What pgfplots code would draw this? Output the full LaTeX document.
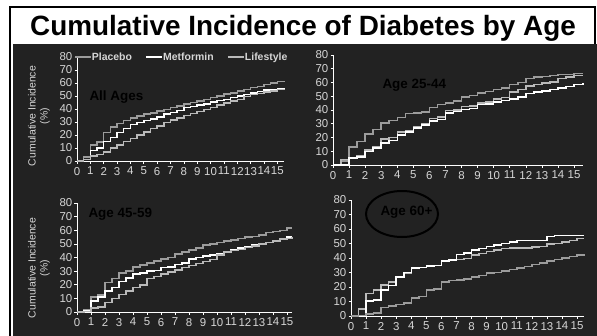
\documentclass[border=0pt]{standalone}
\usepackage{pgfplots}
\pgfplotsset{compat=1.18}
\usepackage{fontspec}
\setmainfont{Liberation Sans}
\definecolor{bg}{HTML}{222222}
\definecolor{tickc}{HTML}{D6D6D6}
\definecolor{plc}{HTML}{9C9C9C}
\definecolor{met}{HTML}{FFFFFF}
\definecolor{lif}{HTML}{BABABA}
\pgfplotsset{
 panel/.style={
   scale only axis, anchor=south west,
   xmin=0, ymin=0, ymax=80,
   axis x line=bottom, axis y line=left,
   axis line style={white, line width=1bp, -},
   xtick={0,...,15}, ytick={0,10,...,80},
   tick style={white, line width=0.6bp},
   tick align=outside, major tick length=2.5bp,
   ticklabel style={font=\fontsize{11.5}{12}\selectfont, text=tickc},
   xticklabel style={inner xsep=0pt},
   yticklabel style={inner xsep=2pt},
   /pgf/number format/assume math mode=true,
   every axis plot/.append style={const plot, line width=1.5bp, mark=none},
   clip=false,
 },
 plc/.style={draw=plc},
 met/.style={draw=met},
 lif/.style={draw=lif},
}
\begin{document}
\begin{tikzpicture}
\useasboundingbox (0,0) rectangle (597bp,-336bp);
\fill[white] (0,0) rectangle (597bp,-336bp);
\draw[black, line width=2bp] (10bp,-345bp) -- (10bp,-7bp) -- (595bp,-7bp) -- (595bp,-345bp);
\fill[bg] (12.5bp,-44bp) rectangle (597bp,-336bp);
\node[anchor=base, font=\fontsize{28}{30}\selectfont\bfseries] at (303bp,-35bp) {Cumulative Incidence of Diabetes by Age};

% ---------- All Ages ----------
\begin{axis}[panel, at={(77bp,-161bp)}, width=207bp, height=104bp, xmax=15.5,
  legend columns=3,
  legend style={at={(0,1)}, anchor=west, xshift=-3bp, draw=none, fill=none,
    font=\fontsize{10.5}{11}\selectfont\bfseries, text=tickc,
    inner sep=0pt, /tikz/every even column/.append style={column sep=13bp},
    nodes={inner xsep=0.5pt}},
  legend image code/.code={\draw[#1, line width=1.2bp] (0bp,0bp) -- (16bp,0bp);}]
\addplot[plc] coordinates {(0,0)(0.5,3)(1,12.5)(1.5,14.5)(2,22)(2.5,26)(3,29)(3.5,31)(4,33)(4.5,34.5)(5,36)(5.5,37)(6,38.5)(6.5,39.5)(7,41)(7.5,42.5)(8,44)(8.5,45)(9,46)(9.5,47.5)(10,49)(10.5,50)(11,51.5)(11.5,52.5)(12,54)(12.5,55)(13,56.5)(13.5,57.5)(14,59)(14.5,60)(15,61)(15.5,61.5)};
\addlegendentry{Placebo}
\addplot[met] coordinates {(0,0)(0.5,1)(1,8)(1.5,10)(2,15)(2.5,18)(3,22)(3.5,25)(4,28)(4.5,29.5)(5,31)(5.5,32.5)(6,34)(6.5,36)(7,37.5)(7.5,39)(8,41)(8.5,42)(9,43)(9.5,44)(10,45.5)(10.5,46.5)(11,47.5)(11.5,49)(12,50)(12.5,51)(13,52.5)(13.5,53.5)(14,54.5)(14.5,55)(15,55.5)(15.5,56)};
\addlegendentry{Metformin}
\addplot[lif] coordinates {(0,0)(0.5,1)(1,4)(1.5,5)(2,7)(2.5,10)(3,12.5)(3.5,15)(4,17.5)(4.5,20)(5,22.5)(5.5,25)(6,27)(6.5,29.5)(7,31.5)(7.5,33)(8,35)(8.5,36.5)(9,38)(9.5,39.5)(10,41)(10.5,43)(11,44.5)(11.5,46)(12,47.5)(12.5,49.5)(13,51)(13.5,52)(14,53)(14.5,54)(15,55)(15.5,55.5)};
\addlegendentry{Lifestyle}
\end{axis}

% ---------- Age 25-44 ----------
\begin{axis}[panel, at={(333bp,-165bp)}, width=250bp, height=110bp, xmax=15.56]
\addplot[plc] coordinates {(0,0)(0.5,3)(1,13)(1.5,17)(2,22.5)(2.5,26)(3,30.5)(3.5,32.5)(4,34.5)(4.5,37.5)(5,38)(5.5,38.5)(6,42)(6.5,44)(7,45)(7.5,46.5)(8,49.5)(8.5,50.5)(9,52.5)(9.5,53.5)(10,55)(10.5,56)(11,58.5)(11.5,60)(12,63)(12.5,64)(13,64.5)(13.5,65)(14,66)(14.5,66)(15,66.5)(15.56,66.5)};
\addplot[lif] coordinates {(0,0)(0.5,4)(1,5.5)(1.5,7)(2,11)(2.5,13)(3,19)(3.5,20)(4,24)(4.5,25)(5,27.5)(5.5,30)(6,34)(6.5,35)(7,39.5)(7.5,40)(8,42.5)(8.5,43)(9,45)(9.5,46)(10,48)(10.5,49)(11,53)(11.5,55)(12,57.5)(12.5,58.5)(13,59.5)(13.5,60.5)(14,63)(14.5,64)(15,65)(15.56,65)};
\addplot[met] coordinates {(0,0)(0.5,0.5)(1,5)(1.5,6)(2,10)(2.5,12.5)(3,16)(3.5,18)(4,22)(4.5,24)(5,27)(5.5,29)(6,32)(6.5,33)(7,38)(7.5,39)(8,40.5)(8.5,41)(9,44)(9.5,44.5)(10,46)(10.5,47)(11,48)(11.5,49.5)(12,52)(12.5,53)(13,54)(13.5,55)(14,56)(14.5,57)(15,58.5)(15.56,59.5)};
\end{axis}

% ---------- Age 45-59 ----------
\begin{axis}[panel, at={(77bp,-312bp)}, width=215bp, height=109bp, xmax=15.36]
\addplot[plc] coordinates {(0,0)(0.5,1.5)(1,11)(1.5,12.5)(2,21.5)(2.5,24.5)(3,28.5)(3.5,30)(4,33)(4.5,34.5)(5,36)(5.5,37.5)(6,39)(6.5,40)(7,42.5)(7.5,44)(8,45.5)(8.5,47)(9,49)(9.5,50)(10,51)(10.5,52)(11,53)(11.5,54)(12,55)(12.5,55.5)(13,56.5)(13.5,58.5)(14,59)(14.5,60)(15,61.5)(15.36,61.5)};
\addplot[met] coordinates {(0,0)(0.5,1)(1,8)(1.5,11)(2,15.5)(2.5,18)(3,22.5)(3.5,25)(4,28)(4.5,28.5)(5,30)(5.5,30.5)(6,32.5)(6.5,33)(7,35)(7.5,36)(8,39)(8.5,40)(9,41)(9.5,42)(10,43)(10.5,44.5)(11,46)(11.5,47)(12,48)(12.5,49)(13,50)(13.5,51)(14,52)(14.5,53.5)(15,55)(15.36,55)};
\addplot[lif] coordinates {(0,0)(0.5,0.5)(1,3)(1.5,3.5)(2,7)(2.5,10)(3,13)(3.5,15.5)(4,18)(4.5,20)(5,24.5)(5.5,26)(6,28)(6.5,29.5)(7,31)(7.5,32.5)(8,34)(8.5,35.5)(9,37)(9.5,38.5)(10,42)(10.5,44)(11,45)(11.5,46)(12,47.5)(12.5,48.5)(13,50)(13.5,51)(14,52)(14.5,53.5)(15,54)(15.36,55)};
\end{axis}

% ---------- Age 60+ ----------
\begin{axis}[panel, at={(351bp,-316bp)}, width=233bp, height=116bp, xmax=15.46]
\addplot[lif] coordinates {(0,0)(0.5,5)(1,15.5)(1.5,18)(2,21.5)(2.5,23.5)(3,27)(3.5,29.5)(4,33)(4.5,33.5)(5,34.5)(5.5,35)(6,38)(6.5,38.5)(7,39)(7.5,39.5)(8,42)(8.5,43)(9,44.5)(9.5,45.5)(10,46.5)(10.5,47)(11,47)(11.5,47)(12,47.5)(12.5,48)(13,49.5)(13.5,50)(14,51)(14.5,52)(15,53.5)(15.46,53.5)};
\addplot[met] coordinates {(0,0)(0.5,0.5)(1,10.5)(1.5,11)(2,18)(2.5,21)(3,27)(3.5,30)(4,33)(4.5,33.5)(5,34.5)(5.5,35)(6,38)(6.5,38.5)(7,42.5)(7.5,43.5)(8,45.5)(8.5,46.5)(9,48)(9.5,49)(10,50)(10.5,51)(11,52)(11.5,52)(12,52)(12.5,52)(13,55)(13.5,55.5)(14,55.5)(14.5,55.5)(15,55.5)(15.46,55.5)};
\addplot[plc] coordinates {(0,0)(0.5,0.5)(1,1.5)(1.5,2)(2,6)(2.5,7)(3,8)(3.5,9)(4,12.5)(4.5,13.5)(5,18)(5.5,18.5)(6,23.5)(6.5,24.5)(7,25)(7.5,25.5)(8,27)(8.5,28)(9,29.5)(9.5,30)(10,31)(10.5,32)(11,33)(11.5,34)(12,35.5)(12.5,36.5)(13,38)(13.5,39)(14,40)(14.5,41)(15,42)(15.46,42.5)};
\end{axis}

% ---------- labels ----------
\begin{scope}[every node/.style={font=\fontsize{13.5}{15}\selectfont\bfseries, text=black}]
\node[anchor=west] at (86bp,-97bp) {All Ages};
\node[anchor=west] at (379bp,-85bp) {Age 25-44};
\node[anchor=west] at (85bp,-214bp) {Age 45-59};
\node[anchor=west] at (377bp,-212bp) {Age 60+};
\end{scope}
\draw[black, line width=2bp] (402bp,-214bp) ellipse [x radius=36bp, y radius=23bp];
\begin{scope}[every node/.style={font=\fontsize{10.5}{12}\selectfont, text=tickc, rotate=90, align=center}]
\node at (39bp,-116bp) {Cumulative Incidence\\(\%)};
\node at (39bp,-268bp) {Cumulative Incidence\\(\%)};
\end{scope}
\end{tikzpicture}
\end{document}
